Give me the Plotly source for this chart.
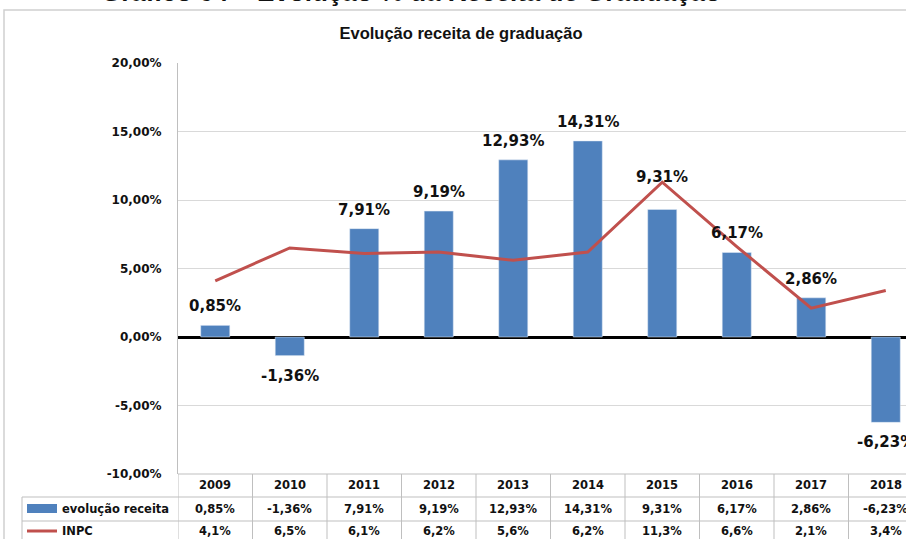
import plotly.graph_objects as go

years = ["2009", "2010", "2011", "2012", "2013", "2014", "2015", "2016", "2017", "2018"]
receita = [0.85, -1.36, 7.91, 9.19, 12.93, 14.31, 9.31, 6.17, 2.86, -6.23]
inpc = [4.1, 6.5, 6.1, 6.2, 5.6, 6.2, 11.3, 6.6, 2.1, 3.4]
receita_txt = ["0,85%", "-1,36%", "7,91%", "9,19%", "12,93%", "14,31%", "9,31%", "6,17%", "2,86%", "-6,23%"]
inpc_txt = ["4,1%", "6,5%", "6,1%", "6,2%", "5,6%", "6,2%", "11,3%", "6,6%", "2,1%", "3,4%"]
ytick_vals = [-10, -5, 0, 5, 10, 15, 20]
ytick_txt = ["-10,00%", "-5,00%", "0,00%", "5,00%", "10,00%", "15,00%", "20,00%"]

BLUE = "#4F81BD"
RED = "#C0504D"
GRID = "#D9D9D9"
BORDER = "#BFBFBF"

W, H = 906, 539
ML, MR, MT, MB = 178, 0, 63, 65
plot_h = H - MT - MB
plot_w = W - ML - MR
col_px = 74.5
n = len(years)
xs = list(range(n))
x_max = -0.5 + plot_w / col_px


def py(p):
    """pixel row -> paper y"""
    return (H - MB - p) / plot_h


def px(p):
    return (p - ML) / plot_w


fig = go.Figure()
fig.add_trace(go.Bar(x=xs, y=receita, marker_color=BLUE, width=0.39,
                     name="evolução receita", showlegend=False))
fig.add_trace(go.Scatter(x=xs, y=inpc, mode="lines", line=dict(color=RED, width=3),
                         name="INPC", showlegend=False))

lab_font = dict(family="DejaVu Sans", size=15, color="#111111", weight="bold")
for i, (v, t) in enumerate(zip(receita, receita_txt)):
    # lift the label above the INPC line when the line peaks over the bar
    top = max(v, inpc[i]) if inpc[i] - v > 1.5 and v > 5 else v
    fig.add_annotation(x=i, y=top, xref="x", yref="y", text=t, showarrow=False,
                       yanchor="bottom" if v >= 0 else "top",
                       yshift=(8 if top == v else -6) if v >= 0 else -9, font=lab_font)

# data table
tfont = dict(family="DejaVu Sans", size=11.5, color="#111111", weight="bold")
row_year, row_rec, row_inpc = py(485.5), py(509), py(531)
for i in range(n):
    fig.add_annotation(x=i, y=row_year, xref="x", yref="paper", text=years[i],
                       showarrow=False, font=tfont, yanchor="middle")
    fig.add_annotation(x=i, y=row_rec, xref="x", yref="paper", text=receita_txt[i],
                       showarrow=False, font=tfont, yanchor="middle")
    fig.add_annotation(x=i, y=row_inpc, xref="x", yref="paper", text=inpc_txt[i],
                       showarrow=False, font=tfont, yanchor="middle")

for k in range(n + 1):
    fig.add_shape(type="line", xref="x", yref="paper", x0=k - 0.5, x1=k - 0.5,
                  y0=0, y1=py(545), line=dict(color=BORDER, width=1))
# horizontal table lines
for p in (497, 521):
    fig.add_shape(type="line", xref="paper", yref="paper", x0=px(22), x1=1.05,
                  y0=py(p), y1=py(p), line=dict(color=BORDER, width=1))
fig.add_shape(type="line", xref="paper", yref="paper", x0=px(22), x1=px(22),
              y0=py(497), y1=py(545), line=dict(color=BORDER, width=1))
fig.add_shape(type="line", xref="paper", yref="paper", x0=0, x1=1.05,
              y0=0, y1=0, line=dict(color=BORDER, width=1))

# legend keys in table
fig.add_shape(type="rect", xref="paper", yref="paper", x0=px(27), x1=px(57),
              y0=py(513), y1=py(504), fillcolor=BLUE, line=dict(width=0))
fig.add_shape(type="line", xref="paper", yref="paper", x0=px(27), x1=px(57),
              y0=py(531), y1=py(531), line=dict(color=RED, width=3))
fig.add_annotation(x=px(60), y=row_rec, xref="paper", yref="paper", text="evolução receita",
                   showarrow=False, xanchor="left", yanchor="middle", font=tfont)
fig.add_annotation(x=px(60), y=row_inpc, xref="paper", yref="paper", text="INPC",
                   showarrow=False, xanchor="left", yanchor="middle", font=tfont)

# outer chart border
fig.add_shape(type="rect", xref="paper", yref="paper", x0=px(4), x1=1.1,
              y0=py(560), y1=py(10), line=dict(color="#D0D0D0", width=1.5))

# cut-off header
fig.add_annotation(x=px(411), y=py(8.5), xref="paper", yref="paper",
                   text="Gráfico 04 – Evolução % da Receita de Graduação",
                   showarrow=False, xanchor="center", yanchor="bottom",
                   font=dict(family="Liberation Sans", size=26, color="#111111", weight="bold"))

fig.update_layout(
    width=W, height=H,
    margin=dict(l=ML, r=MR, t=MT, b=MB),
    paper_bgcolor="white", plot_bgcolor="white",
    title=dict(text="Evolução receita de graduação", x=461 / W, xanchor="center",
               y=1 - 33 / H, yanchor="middle",
               font=dict(family="Liberation Sans", size=16.5, color="#111111", weight="bold")),
    xaxis=dict(range=[-0.5, x_max], showticklabels=False, showgrid=False,
               zeroline=False, showline=False, fixedrange=True),
    yaxis=dict(range=[-10, 20], tickvals=ytick_vals, ticktext=ytick_txt,
               showgrid=True, gridcolor=GRID, gridwidth=1,
               zeroline=True, zerolinecolor="#000000", zerolinewidth=3,
               showline=True, linecolor=BORDER, linewidth=1,
               ticklabelstandoff=13,
               tickfont=dict(family="DejaVu Sans", size=12, color="#111111", weight="bold")),
    bargap=0.6,
)

fig.write_html("out.html", config={"displayModeBar": False},
               post_script="document.body.style.margin='0';document.body.style.overflow='hidden';")
